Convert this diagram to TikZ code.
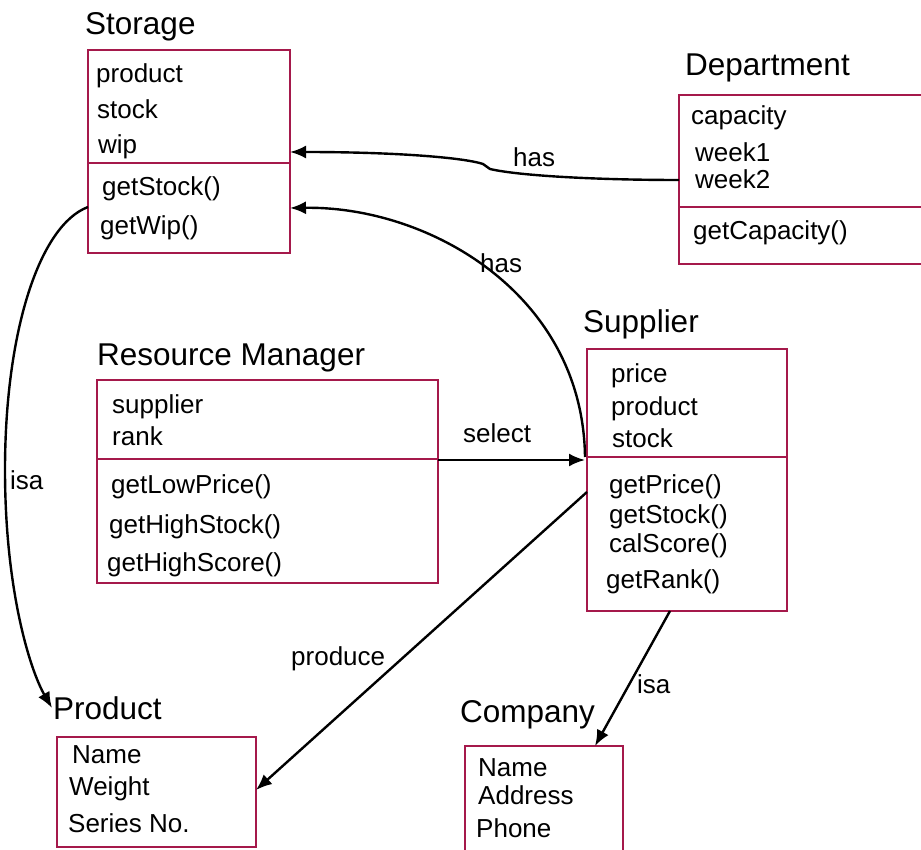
\documentclass[tikz,border=0pt]{standalone}
\usepackage{fontspec}
\setmainfont{Liberation Sans}
\usetikzlibrary{arrows.meta,calc}
\definecolor{boxred}{RGB}{165,25,75}
\begin{document}
\begin{tikzpicture}[x=1pt,y=-1pt,
  umlbox/.style={draw=boxred, line width=1.3pt, inner sep=0pt, outer sep=0pt},
  divider/.style={draw=boxred, line width=1.3pt},
  txt/.style={anchor=base west, inner sep=0pt, font=\fontsize{26}{30}\selectfont},
  ttl/.style={anchor=base west, inner sep=0pt, font=\fontsize{31.5}{36}\selectfont},
  arr/.style={line width=2.4pt, -{Latex[length=16pt,width=13pt]}}
]
\useasboundingbox (0,0) rectangle (921,850);

% ---------- Storage ----------
\node[ttl] (stoT) at (85,35) {Storage};
\node[umlbox, minimum width=202pt, minimum height=203pt] (storage) at (189,151.5) {};
\draw[divider] (storage.west |- 0,163) -- (storage.east |- 0,163);
\node[txt] (sto1) at (96,83) {product};
\node[txt] (sto2) at (97,119) {stock};
\node[txt] (sto3) at (98,154) {wip};
\node[txt] (sto4) at (102,196) {getStock()};
\node[txt] (sto5) at (100,235) {getWip()};

% ---------- Department ----------
\node[ttl] (depT) at (685,76) {Department};
\node[umlbox, minimum width=243pt, minimum height=169pt] (dep) at (800.5,179.5) {};
\draw[divider] (dep.west |- 0,207) -- (dep.east |- 0,207);
\node[txt] (dep1) at (691,125) {capacity};
\node[txt] (dep2) at (695,162) {week1};
\node[txt] (dep3) at (695,189) {week2};
\node[txt] (dep4) at (693,240) {getCapacity()};

% ---------- Supplier ----------
\node[ttl] (supT) at (583,332) {Supplier};
\node[umlbox, minimum width=200pt, minimum height=262pt] (sup) at (687,480) {};
\draw[divider] (sup.west |- 0,457) -- (sup.east |- 0,457);
\node[txt] (sup1) at (611,382) {price};
\node[txt] (sup2) at (611,415) {product};
\node[txt] (sup3) at (612,447) {stock};
\node[txt] (sup4) at (609,493) {getPrice()};
\node[txt] (sup5) at (609,523) {getStock()};
\node[txt] (sup6) at (609,552) {calScore()};
\node[txt] (sup7) at (606,588) {getRank()};

% ---------- Resource Manager ----------
\node[ttl] (rmT) at (97,365) {Resource Manager};
\node[umlbox, minimum width=341pt, minimum height=203pt] (rm) at (267.5,481.5) {};
\draw[divider] (rm.west |- 0,459) -- (rm.east |- 0,459);
\node[txt] (rm1) at (112,413) {supplier};
\node[txt] (rm2) at (112,445) {rank};
\node[txt] (rm3) at (111,493) {getLowPrice()};
\node[txt] (rm4) at (109,533) {getHighStock()};
\node[txt] (rm5) at (107,571) {getHighScore()};

% ---------- Product ----------
\node[ttl] (prodT) at (53,719) {Product};
\node[umlbox, minimum width=199pt, minimum height=110pt] (prod) at (156.5,792) {};
\node[txt] (prod1) at (72,763) {Name};
\node[txt] (prod2) at (69,795) {Weight};
\node[txt] (prod3) at (68,832) {Series No.};

% ---------- Company ----------
\node[ttl] (compT) at (460,722) {Company};
\node[umlbox, minimum width=158pt, minimum height=109pt] (comp) at (544,800.5) {};
\node[txt] (comp1) at (478,776) {Name};
\node[txt] (comp2) at (478,804) {Address};
\node[txt] (comp3) at (476,837) {Phone};

% ---------- Connectors ----------
\draw[arr] ([yshift=-85pt]dep.north west) .. controls (600,180) and (520,176) .. (490,169)
  .. controls (486,167) .. (483,164)
  .. controls (465,158) and (400,152) .. ([yshift=-102pt]storage.north east);
\node[txt] (has1) at (513,167) {has};

\draw[arr] ([xshift=-2pt,yshift=-108pt]sup.north west) .. controls (583,295) and (430,206) .. ([yshift=-158pt]storage.north east);
\node[txt] (has2) at (480,273) {has};

\draw[arr] ([yshift=-80pt]rm.north east) -- ([xshift=-2pt,yshift=-111pt]sup.north west);
\node[txt] (sel) at (463,442) {select};

\draw[arr] ([yshift=-157pt]storage.north west) .. controls (40,225) and (5,330) .. (5,470)
  .. controls (5,590) and (30,670) .. ([xshift=-1pt,yshift=11pt]prodT.base west);
\node[txt] (isa1) at (10,489) {isa};

\draw[arr] ([yshift=-143pt]sup.north west) -- ([yshift=2pt]prod.east);
\node[txt] (prodl) at (291,665) {produce};

\draw[arr] ([xshift=-17pt]sup.south) -- ([xshift=51pt]comp.north);
\node[txt] (isa2) at (637,693) {isa};
\end{tikzpicture}
\end{document}
